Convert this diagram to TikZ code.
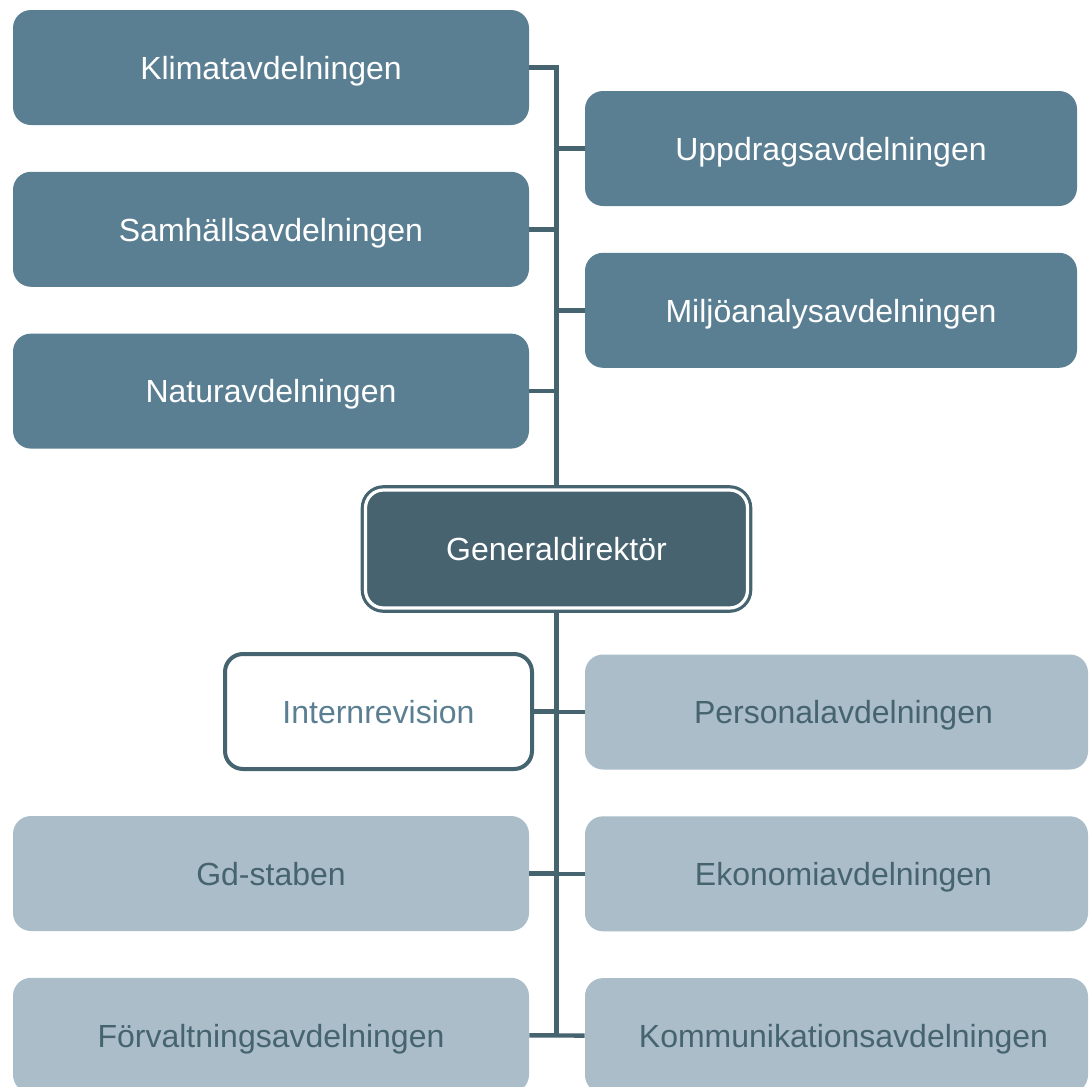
\documentclass[tikz,border=0pt]{standalone}
\usepackage{fontspec}
\setmainfont{Liberation Sans}
\usetikzlibrary{positioning}
\definecolor{deptblue}{RGB}{91,127,146}
\definecolor{headblue}{RGB}{71,99,111}
\definecolor{lineblue}{RGB}{70,100,112}
\definecolor{staffblue}{RGB}{171,189,201}

\begin{document}
\begin{tikzpicture}[x=0.5pt,y=-0.5pt,node distance=23pt,
 box/.style={rectangle,rounded corners=9pt,minimum height=57.5pt,inner sep=0pt,
   text height=11.8pt,text depth=0pt,font=\fontsize{16}{19}\selectfont},
 dept node/.style={box,fill=deptblue,text=white},
 staff node/.style={box,fill=staffblue,text=lineblue},
 head node/.style={box,fill=headblue,text=white,draw=lineblue,line width=1.6pt,
   double=white,double distance=1.6pt,minimum width=191pt,minimum height=59pt},
 audit node/.style={box,fill=white,text=deptblue,draw=lineblue,line width=2pt,
   minimum width=153.5pt},
 left col/.style={minimum width=258pt},
 right col/.style={minimum width=246pt},
 right low/.style={minimum width=251.5pt,execute at begin node={\hspace*{7pt}}},
 conn/.style={draw=lineblue,line width=2.2pt}]

  \useasboundingbox (0,0) rectangle (1089,1087);

  % departments
  \node[dept node,left col] (klimat) at (271,67.5) {Klimatavdelningen};
  \node[dept node,left col] (samh) [below=of klimat] {Samhällsavdelningen};
  \node[dept node,left col] (natur) [below=of samh] {Naturavdelningen};
  \node[dept node,right col] (uppdrag) at (831,148.5) {Uppdragsavdelningen};
  \node[dept node,right col] (miljo) [below=of uppdrag] {Miljöanalysavdelningen};

  \node[head node] (gd) at (556.5,549) {Generaldirektör};

  % staff units
  \node[audit node] (audit) at (378.5,711.5) {Internrevision};
  \node[staff node,left col] (gdstab) at (271,873.5) {Gd-staben};
  \node[staff node,left col] (forv) [below=of gdstab] {Förvaltningsavdelningen};
  \node[staff node,right low] (personal) at (836.5,712) {Personalavdelningen};
  \node[staff node,right low] (ekonomi) [below=of personal] {Ekonomiavdelningen};
  \node[staff node,right low] (komm) [below=of ekonomi] {Kommunikationsavdelningen};

  \path[conn] (klimat.east) -| (gd.north);
  \path[conn] (gd.south) -- (forv.east -| gd.south);
  \path[conn] (forv.east) -- (komm.west);

  \foreach \n in {samh, natur, audit, gdstab} {
   \path[conn] (\n.east) -- (\n.east -| gd.north);}

  \foreach \n in {uppdrag, miljo, personal, ekonomi} {
   \path[conn] (\n.west) -- (\n.west -| gd.north);}
\end{tikzpicture}
\end{document}
